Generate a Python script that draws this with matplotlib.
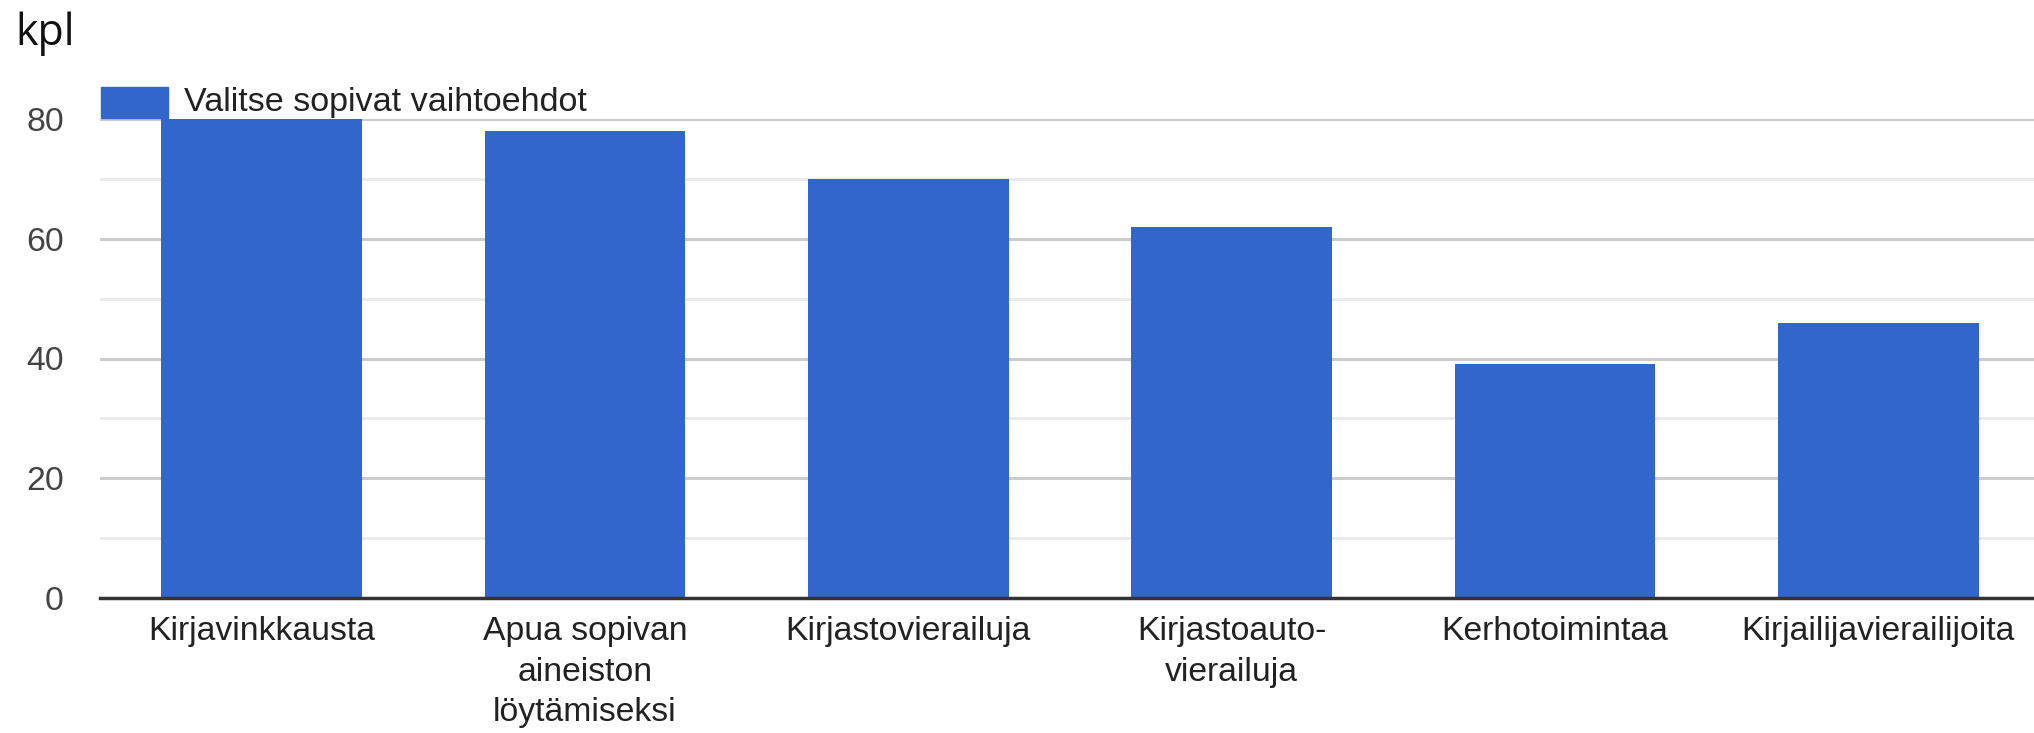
import matplotlib
matplotlib.use("Agg")
from matplotlib import pyplot as plt
from matplotlib.patches import Rectangle
from matplotlib.ticker import MultipleLocator

categories = ["Kirjavinkkausta", "Apua sopivan\naineiston\nlöytämiseksi", "Kirjastovierailuja",
              "Kirjastoauto-\nvierailuja", "Kerhotoimintaa", "Kirjailijavierailijoita"]
values = [80, 78, 70, 62, 39, 46]
series_name = "Valitse sopivat vaihtoehdot"
unit_label = "kpl"

bar_color = "#3366cc"
W, H = 2034, 733

plt.rcParams["font.family"] = ["Liberation Sans", "DejaVu Sans"]

fig = plt.figure(figsize=(W / 100, H / 100), dpi=100)
# plot area runs a few pixels past the right edge, as in the original
ax = fig.add_axes([100 / W, 1 - 598 / H, 1940 / W, (598 - 119) / H])

x = range(len(categories))
ax.bar(x, values, width=0.62, color=bar_color, zorder=3)

ax.set_xlim(-0.5, len(categories) - 0.5)
ax.set_ylim(0, 80)
ax.yaxis.set_major_locator(MultipleLocator(20))
ax.yaxis.set_minor_locator(MultipleLocator(10))
ax.grid(axis="y", which="major", color="#cccccc", linewidth=2.2, zorder=0)
ax.grid(axis="y", which="minor", color="#ebebeb", linewidth=2.2, zorder=0)
ax.set_axisbelow(True)

for side in ["top", "right", "left"]:
    ax.spines[side].set_visible(False)
ax.spines["bottom"].set_color("#333333")
ax.spines["bottom"].set_linewidth(2.5)
ax.spines["bottom"].set_zorder(4)

ax.set_xticks(list(x))
ax.set_xticklabels(categories, fontsize=24.3, color="#222222", linespacing=1.4, va="top")
ax.tick_params(axis="x", length=0, pad=13)
ax.tick_params(axis="y", which="both", length=0, pad=26, labelsize=24.3, labelcolor="#444444")

# legend drawn by hand at the top left
fig.add_artist(Rectangle((101 / W, 1 - 118 / H), 67 / W, 31 / H,
                         transform=fig.transFigure, color=bar_color, zorder=5))
fig.text(184 / W, 1 - 103 / H, series_name, fontsize=24.6, color="#222222",
         va="center", ha="left", zorder=5)

fig.text(15 / W, 1 - 11 / H, unit_label, fontsize=31, family=["Open Sans", "DejaVu Sans"],
         color="#111111", va="top", ha="left")

fig.savefig("out.png", dpi=100)
